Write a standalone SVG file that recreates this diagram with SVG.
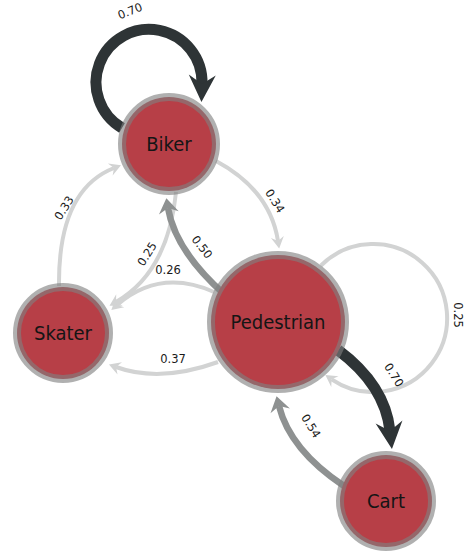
<svg xmlns="http://www.w3.org/2000/svg" width="465" height="554" viewBox="0 0 465 554">
<style>
.e{fill:none;stroke-linecap:butt}
.lt{stroke:#d2d3d3;stroke-width:4}
.md{stroke:#8e9191;stroke-width:6.5}
.dk{stroke:#2e3436;stroke-width:11}
.n{fill:#b73f47;stroke:#808080;stroke-opacity:0.62;stroke-width:8}
.nl{font-family:"DejaVu Sans Condensed","DejaVu Sans",sans-serif;font-size:20px;fill:#151515;text-anchor:middle}
.el{font-family:"DejaVu Sans",sans-serif;font-size:11.5px;fill:#1a1a1a;text-anchor:middle}
</style>
<defs>
<marker id="al" markerUnits="userSpaceOnUse" markerWidth="20" markerHeight="20" refX="0" refY="0" orient="auto" overflow="visible"><path d="M7.5,0 L-4,-6.5 L0,0 L-4,6.5 Z" fill="#d2d3d3"/></marker>
<marker id="am" markerUnits="userSpaceOnUse" markerWidth="30" markerHeight="30" refX="0" refY="0" orient="auto" overflow="visible"><path d="M10,0 L-5,-10 L0,0 L-5,10 Z" fill="#8e9191"/></marker>
<marker id="ad" markerUnits="userSpaceOnUse" markerWidth="40" markerHeight="40" refX="0" refY="0" orient="auto" overflow="visible"><path d="M18,0 L-9,-13.5 L0,0 L-9,13.5 Z" fill="#2e3436"/></marker>
</defs>
<g id="edges">
<path class="e lt" d="M321,265.5 A74,74 0 1 1 331.6,379.3" marker-end="url(#al)"/>
<path class="e lt" d="M216,161 Q270,190 278,241" marker-end="url(#al)"/>
<path class="e lt" d="M59,286 Q58,190 114,168" marker-end="url(#al)"/>
<path class="e lt" d="M176,192 Q168,272 116,302" marker-end="url(#al)"/>
<path class="e lt" d="M214,292 Q160,268 117,305" marker-end="url(#al)"/>
<path class="e lt" d="M218,362 Q160,383 116,367" marker-end="url(#al)"/>
<path class="e md" d="M224,294 Q175,250 168,208" marker-end="url(#am)"/>
<path class="e md" d="M344,486 Q290,450 279,406" marker-end="url(#am)"/>
<path class="e dk" d="M338,350 Q385,385 390,431" marker-end="url(#ad)"/>
<path class="e dk" d="M122,128 A53,53 0 1 1 202,84" marker-end="url(#ad)"/>
<text class="el" transform="translate(130,11) rotate(-22)" dy="0.35em">0.70</text>
<text class="el" transform="translate(275,201) rotate(58)" dy="0.35em">0.34</text>
<text class="el" transform="translate(202,247) rotate(52)" dy="0.35em">0.50</text>
<text class="el" transform="translate(64,208) rotate(-57)" dy="0.35em">0.33</text>
<text class="el" transform="translate(147,254) rotate(-57)" dy="0.35em">0.25</text>
<text class="el" transform="translate(168,270)" dy="0.35em">0.26</text>
<text class="el" transform="translate(173,359)" dy="0.35em">0.37</text>
<text class="el" transform="translate(458,315) rotate(90)" dy="0.35em">0.25</text>
<text class="el" transform="translate(394,375) rotate(58)" dy="0.35em">0.70</text>
<text class="el" transform="translate(311,426) rotate(58)" dy="0.35em">0.54</text>
</g>
<g id="biker"><circle class="n" cx="169" cy="144" r="47"/><text class="nl" x="169" y="144" dy="0.35em">Biker</text></g>
<g id="pedestrian"><circle class="n" cx="278" cy="322" r="67"/><text class="nl" x="278" y="322" dy="0.35em">Pedestrian</text></g>
<g id="skater"><circle class="n" cx="63" cy="333" r="46"/><text class="nl" x="63" y="333" dy="0.35em">Skater</text></g>
<g id="cart"><circle class="n" cx="386" cy="501" r="46"/><text class="nl" x="386" y="501" dy="0.35em">Cart</text></g>
</svg>
